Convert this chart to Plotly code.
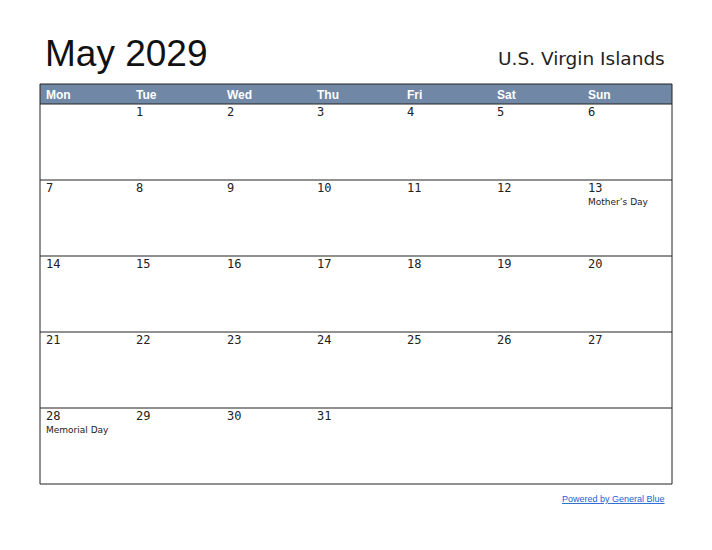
import calendar

import plotly.graph_objects as go

title = "May 2029"
region = "U.S. Virgin Islands"
weekdays = ["Mon", "Tue", "Wed", "Thu", "Fri", "Sat", "Sun"]
year, month = 2029, 5
holidays = {13: "Mother’s Day", 28: "Memorial Day"}

x0, x1 = 40, 672
head_top, head_bot = 84, 104
row_h = 76
col_w = (x1 - x0) / 7

weeks = calendar.Calendar(firstweekday=0).monthdayscalendar(year, month)
grid_bot = head_bot + row_h * len(weeks)

fig = go.Figure()
shapes = [
    dict(type="rect", x0=x0, x1=x1, y0=head_top, y1=head_bot,
         fillcolor="#7088A5", line=dict(width=0)),
    dict(type="rect", x0=x0, x1=x1, y0=head_top, y1=grid_bot,
         line=dict(color="#222", width=1)),
]
for i in range(len(weeks)):
    y = head_bot + row_h * i
    shapes.append(dict(type="line", x0=x0, x1=x1, y0=y, y1=y,
                       line=dict(color="#222", width=1)))

ann = [
    dict(x=x0 + 3, y=53, text=title, showarrow=False, xanchor="left",
         font=dict(size=37, color="#111", family="Liberation Sans")),
    dict(x=667, y=58, text=region, showarrow=False, xanchor="right",
         font=dict(size=18.5, color="#222", family="DejaVu Sans")),
    dict(x=667, y=499, text="<u>Powered by General Blue</u>", showarrow=False,
         xanchor="right", font=dict(size=9, color="#1a5fd0", family="Liberation Sans")),
]
for c, wd in enumerate(weekdays):
    ann.append(dict(x=x0 + col_w * c + 4, y=95, text=f"<b>{wd}</b>", showarrow=False,
                    xanchor="left", font=dict(size=12, color="white",
                                              family="Liberation Sans")))
for r, week in enumerate(weeks):
    for c, d in enumerate(week):
        if not d:
            continue
        xl = x0 + col_w * c + 4
        yt = head_bot + row_h * r
        ann.append(dict(x=xl, y=yt + 8, text=str(d), showarrow=False, xanchor="left",
                        font=dict(size=12, color="#222", family="DejaVu Sans Mono")))
        if d in holidays:
            ann.append(dict(x=xl, y=yt + 22, text=holidays[d], showarrow=False,
                            xanchor="left", font=dict(size=9, color="#222",
                                                      family="DejaVu Sans")))

# page body has an 8px margin, so shift the ranges to land on the same pixels
fig.update_layout(
    width=712, height=550, margin=dict(l=0, r=0, t=0, b=0),
    plot_bgcolor="white", paper_bgcolor="white",
    xaxis=dict(range=[8, 720], visible=False, fixedrange=True),
    yaxis=dict(range=[558, 8], visible=False, fixedrange=True),
    shapes=shapes, annotations=ann, showlegend=False,
)
fig.write_html("out.html")
